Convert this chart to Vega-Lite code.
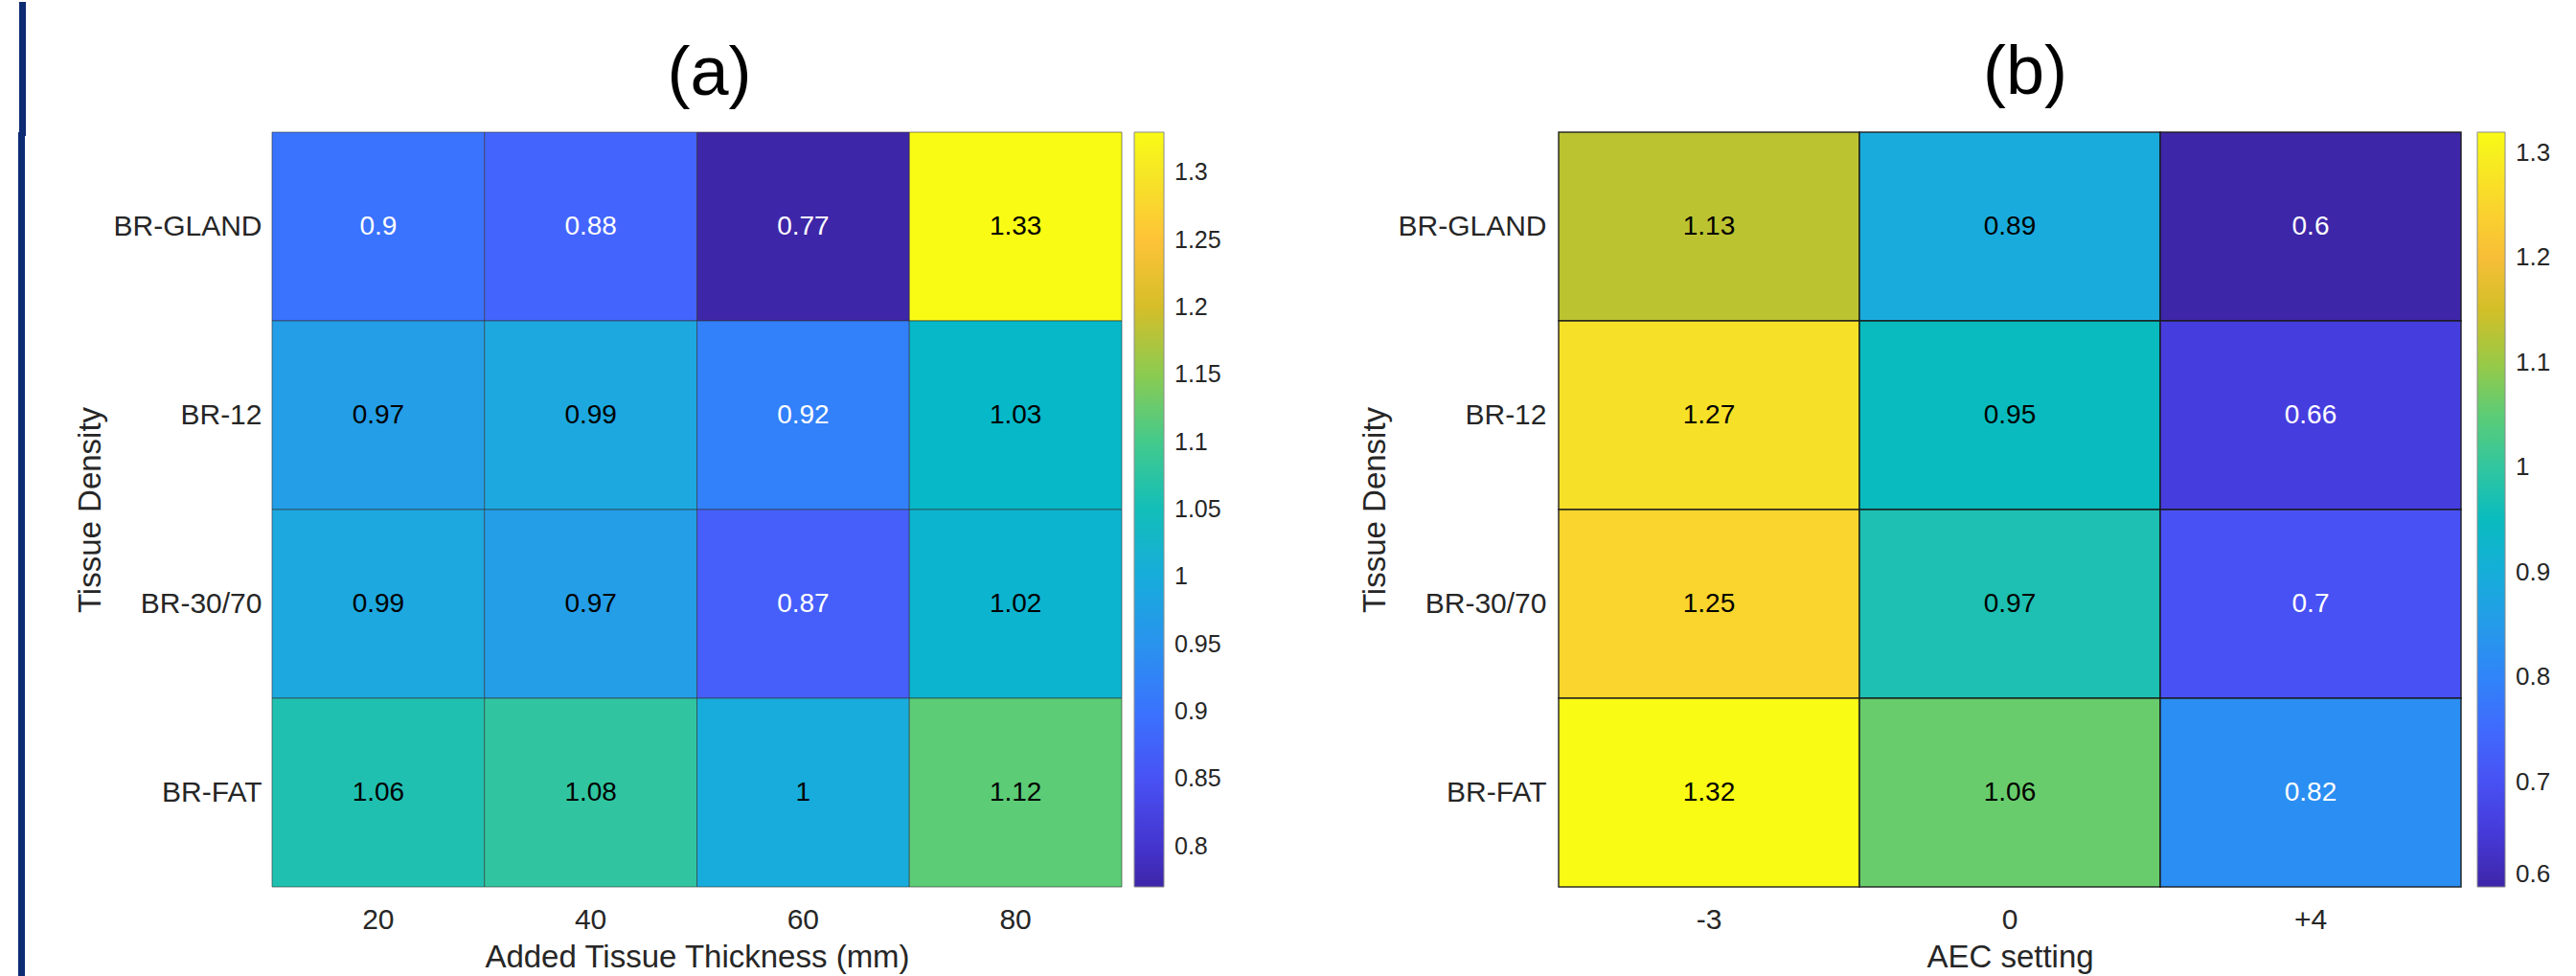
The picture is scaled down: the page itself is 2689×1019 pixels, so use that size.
{
  "$schema": "https://vega.github.io/schema/vega-lite/v6.json",
  "padding": {"left": 18, "top": 0, "right": 0, "bottom": 0},
  "background": "white",
  "config": {
    "font": "Liberation Sans",
    "view": {"stroke": null},
    "axis": {"labelFont": "Liberation Sans", "titleFont": "Liberation Sans", "labelColor": "#262626", "titleColor": "#262626", "titleFontWeight": "normal", "domain": false, "ticks": false, "tickSize": 0, "grid": false},
    "legend": {"padding": 0, "labelFont": "Liberation Sans", "labelColor": "#262626"},
    "title": {"font": "Liberation Sans", "fontWeight": "normal", "color": "#000000"}
  },
  "datasets": {
    "a": [
      {"tissue": "BR-GLAND", "thickness": "20", "value": 0.9},
      {"tissue": "BR-GLAND", "thickness": "40", "value": 0.88},
      {"tissue": "BR-GLAND", "thickness": "60", "value": 0.77},
      {"tissue": "BR-GLAND", "thickness": "80", "value": 1.33},
      {"tissue": "BR-12", "thickness": "20", "value": 0.97},
      {"tissue": "BR-12", "thickness": "40", "value": 0.99},
      {"tissue": "BR-12", "thickness": "60", "value": 0.92},
      {"tissue": "BR-12", "thickness": "80", "value": 1.03},
      {"tissue": "BR-30/70", "thickness": "20", "value": 0.99},
      {"tissue": "BR-30/70", "thickness": "40", "value": 0.97},
      {"tissue": "BR-30/70", "thickness": "60", "value": 0.87},
      {"tissue": "BR-30/70", "thickness": "80", "value": 1.02},
      {"tissue": "BR-FAT", "thickness": "20", "value": 1.06},
      {"tissue": "BR-FAT", "thickness": "40", "value": 1.08},
      {"tissue": "BR-FAT", "thickness": "60", "value": 1.0},
      {"tissue": "BR-FAT", "thickness": "80", "value": 1.12}
    ],
    "b": [
      {"tissue": "BR-GLAND", "aec": "-3", "value": 1.13},
      {"tissue": "BR-GLAND", "aec": "0", "value": 0.89},
      {"tissue": "BR-GLAND", "aec": "+4", "value": 0.6},
      {"tissue": "BR-12", "aec": "-3", "value": 1.27},
      {"tissue": "BR-12", "aec": "0", "value": 0.95},
      {"tissue": "BR-12", "aec": "+4", "value": 0.66},
      {"tissue": "BR-30/70", "aec": "-3", "value": 1.25},
      {"tissue": "BR-30/70", "aec": "0", "value": 0.97},
      {"tissue": "BR-30/70", "aec": "+4", "value": 0.7},
      {"tissue": "BR-FAT", "aec": "-3", "value": 1.32},
      {"tissue": "BR-FAT", "aec": "0", "value": 1.06},
      {"tissue": "BR-FAT", "aec": "+4", "value": 0.82}
    ]
  },
  "columns": 2,
  "align": "none",
  "spacing": 50,
  "concat": [
    {
      "data": {"values": [{"k": "bar"}]},
      "width": 7,
      "height": 1019,
      "view": {"fill": "#0c2b73", "stroke": null},
      "mark": {"type": "text", "opacity": 0},
      "encoding": {
        "x": {"field": "k", "type": "nominal",
              "axis": {"orient": "top", "title": null, "labels": false, "domain": false, "ticks": true, "tickSize": 133, "tickWidth": 7, "tickCap": "square", "tickColor": "#0c2b73"}}
      }
    },
    {
      "columns": 2,
      "align": "none",
      "spacing": 144,
      "resolve": {"scale": {"color": "independent"}, "legend": {"color": "independent"}},
      "concat": [
        {
          "data": {"name": "a"},
          "width": 887,
          "height": 788,
          "title": {"text": ["", "(a)"], "lineHeight": 38, "fontSize": 72, "offset": 24, "anchor": "middle", "frame": "group", "dx": 13},
          "encoding": {
            "x": {"field": "thickness", "type": "ordinal", "sort": ["20", "40", "60", "80"], "title": "Added Tissue Thickness (mm)",
                  "axis": {"labelAngle": 0, "labelFontSize": 30, "titleFontSize": 33, "labelPadding": 19, "titlePadding": 8}},
            "y": {"field": "tissue", "type": "ordinal", "sort": ["BR-GLAND", "BR-12", "BR-30/70", "BR-FAT"], "title": "Tissue Density",
                  "axis": {"labelFontSize": 30, "titleFontSize": 33, "labelPadding": 11, "titlePadding": 6}}
          },
          "layer": [
            {
              "mark": {"type": "rect", "stroke": "#333333", "strokeWidth": 1, "strokeOpacity": 0.6},
              "encoding": {
                "color": {"field": "value", "type": "quantitative",
                  "scale": {"domain": [0.77, 1.33], "nice": false, "zero": false, "interpolate": "rgb",
                    "range": ["#3e26a8", "#4332cb", "#4741e5", "#4852f4", "#4563fd", "#3875fe", "#2e87f7", "#2797eb", "#20a5e3", "#12b1d6", "#02bac3", "#24c1ae", "#37c897", "#57cc7a", "#81cc59", "#abc739", "#d1bf27", "#f0ba36", "#fec338", "#fad62d", "#f5e924", "#f9fb15"]},
                  "legend": {"title": null, "orient": "right", "offset": 13, "gradientLength": 788, "gradientThickness": 31,
                    "values": [0.8, 0.85, 0.9, 0.95, 1, 1.05, 1.1, 1.15, 1.2, 1.25, 1.3], "format": ".2~f",
                    "labelFontSize": 25, "labelOffset": 11, "gradientStrokeColor": "#8c8c8c", "gradientStrokeWidth": 1, "labelOverlap": false}}
              }
            },
            {
              "mark": {"type": "text", "fontSize": 28, "font": "Liberation Sans"},
              "encoding": {
                "text": {"field": "value", "type": "quantitative", "format": ".2~f"},
                "color": {"condition": {"test": "datum.value < 0.95", "value": "#ffffff"}, "value": "#000000"}
              }
            }
          ]
        },
        {
          "data": {"name": "b"},
          "width": 942,
          "height": 788,
          "title": {"text": ["", "(b)"], "lineHeight": 38, "fontSize": 72, "offset": 24, "anchor": "middle", "frame": "group", "dx": 16},
          "encoding": {
            "x": {"field": "aec", "type": "ordinal", "sort": ["-3", "0", "+4"], "title": "AEC setting",
                  "axis": {"labelAngle": 0, "labelFontSize": 30, "titleFontSize": 33, "labelPadding": 19, "titlePadding": 8}},
            "y": {"field": "tissue", "type": "ordinal", "sort": ["BR-GLAND", "BR-12", "BR-30/70", "BR-FAT"], "title": "Tissue Density",
                  "axis": {"labelFontSize": 30, "titleFontSize": 33, "labelPadding": 13, "titlePadding": 6}}
          },
          "layer": [
            {
              "mark": {"type": "rect", "stroke": "#1a1a1a", "strokeWidth": 1.5, "strokeOpacity": 0.9},
              "encoding": {
                "color": {"field": "value", "type": "quantitative",
                  "scale": {"domain": [0.6, 1.32], "nice": false, "zero": false, "interpolate": "rgb",
                    "range": ["#3e26a8", "#4332cb", "#4741e5", "#4852f4", "#4563fd", "#3875fe", "#2e87f7", "#2797eb", "#20a5e3", "#12b1d6", "#02bac3", "#24c1ae", "#37c897", "#57cc7a", "#81cc59", "#abc739", "#d1bf27", "#f0ba36", "#fec338", "#fad62d", "#f5e924", "#f9fb15"]},
                  "legend": {"title": null, "orient": "right", "offset": 17, "gradientLength": 788, "gradientThickness": 29,
                    "values": [0.6, 0.7, 0.8, 0.9, 1, 1.1, 1.2, 1.3], "format": ".1~f",
                    "labelFontSize": 26, "labelOffset": 11, "gradientStrokeColor": "#8c8c8c", "gradientStrokeWidth": 1, "labelOverlap": false}}
              }
            },
            {
              "mark": {"type": "text", "fontSize": 28, "font": "Liberation Sans"},
              "encoding": {
                "text": {"field": "value", "type": "quantitative", "format": ".2~f"},
                "color": {"condition": {"test": "datum.value < 0.85", "value": "#ffffff"}, "value": "#000000"}
              }
            }
          ]
        }
      ]
    }
  ]
}
